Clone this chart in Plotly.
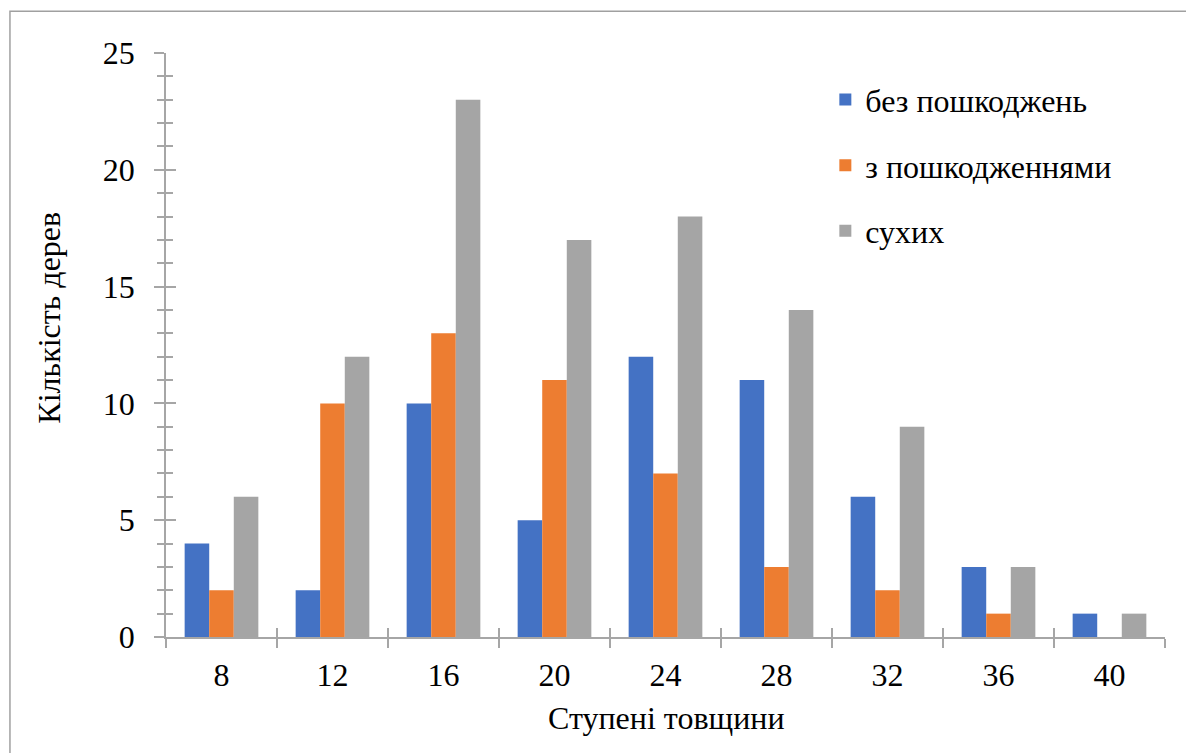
import plotly.graph_objects as go

categories = ["8", "12", "16", "20", "24", "28", "32", "36", "40"]
no_damage = [4, 2, 10, 5, 12, 11, 6, 3, 1]
damaged = [2, 10, 13, 11, 7, 3, 2, 1, 0]
dry = [6, 12, 23, 17, 18, 14, 9, 3, 1]

series_names = ["без пошкоджень", "з пошкодженнями", "сухих"]
colors = ["#4472C4", "#ED7D31", "#A5A5A5"]

F_TICK = "Tinos"
F_LEG = "Times New Roman"
F_ANN = "Liberation Serif"
AX = "#a6a6a6"
FS = 32

fig = go.Figure()
for i, (name, vals) in enumerate(zip(series_names, [no_damage, damaged, dry])):
    fig.add_trace(go.Bar(x=categories, y=vals, name=name, marker=dict(color=colors[i], line=dict(width=0)),
                         legendgroup=f"g{i}"))

# helper trace for the inside half of cross ticks
fig.add_trace(go.Bar(x=categories, y=dry, xaxis="x2", yaxis="y2", showlegend=False,
                     marker=dict(opacity=0), hoverinfo="skip"))

fig.update_layout(
    width=1186, height=745,
    margin=dict(l=158, r=29, t=45, b=116, autoexpand=False),
    paper_bgcolor="white", plot_bgcolor="white",
    barmode="group", bargap=0.336, bargroupgap=0,
    showlegend=True,
    legend=dict(x=0.66, y=0.967, xanchor="left", yanchor="top", bgcolor="rgba(0,0,0,0)",
                font=dict(family=F_LEG, size=FS, color="black"), tracegroupgap=21),
    xaxis=dict(type="category", categoryarray=categories, range=[-0.5, 8.5], automargin=False,
               showline=True, linecolor=AX, linewidth=1.5, ticks="outside", tickson="boundaries",
               ticklen=9, tickcolor=AX, tickwidth=1.5, showgrid=False, zeroline=False,
               tickfont=dict(family=F_TICK, size=FS, color="black"), ticklabelstandoff=9),
    yaxis=dict(range=[0, 25], dtick=5, showline=True, linecolor=AX, linewidth=1.5, automargin=False,
               ticks="outside", ticklen=10, tickcolor=AX, tickwidth=1.5,
               minor=dict(ticks="outside", dtick=1, ticklen=7, tickcolor=AX, tickwidth=1.5),
               showgrid=False, zeroline=False, tickfont=dict(family=F_TICK, size=FS, color="black"),
               ticklabelstandoff=13),
    xaxis2=dict(type="category", categoryarray=categories, range=[-0.5, 8.5], overlaying="x",
                anchor="y2", ticks="inside", tickson="boundaries", ticklen=9, tickcolor=AX,
                tickwidth=1.5, showticklabels=False, showline=False, showgrid=False, zeroline=False),
    yaxis2=dict(range=[0, 25], dtick=5, overlaying="y", anchor="x2", ticks="inside", ticklen=10,
                tickcolor=AX, tickwidth=1.5,
                minor=dict(ticks="inside", dtick=1, ticklen=7, tickcolor=AX, tickwidth=1.5),
                showticklabels=False, showline=False, showgrid=False, zeroline=False),
)

fig.add_annotation(text="Кількість дерев", xref="paper", yref="paper", x=-0.118, y=0.547,
                   textangle=-90, showarrow=False, font=dict(family=F_ANN, size=FS, color="black"),
                   xanchor="center", yanchor="middle")
fig.add_annotation(text="Ступені товщини", xref="paper", yref="paper", x=0.501, y=-0.139,
                   showarrow=False, font=dict(family=F_ANN, size=FS, color="black"),
                   xanchor="center", yanchor="middle")

fig.add_shape(type="rect", xref="paper", yref="paper", x0=-0.1562, x1=1.023, y0=-0.25, y1=1.0714,
              line=dict(color="#a0a0a0", width=1.5), fillcolor="rgba(0,0,0,0)", layer="below")

fig.write_html("out.html")
